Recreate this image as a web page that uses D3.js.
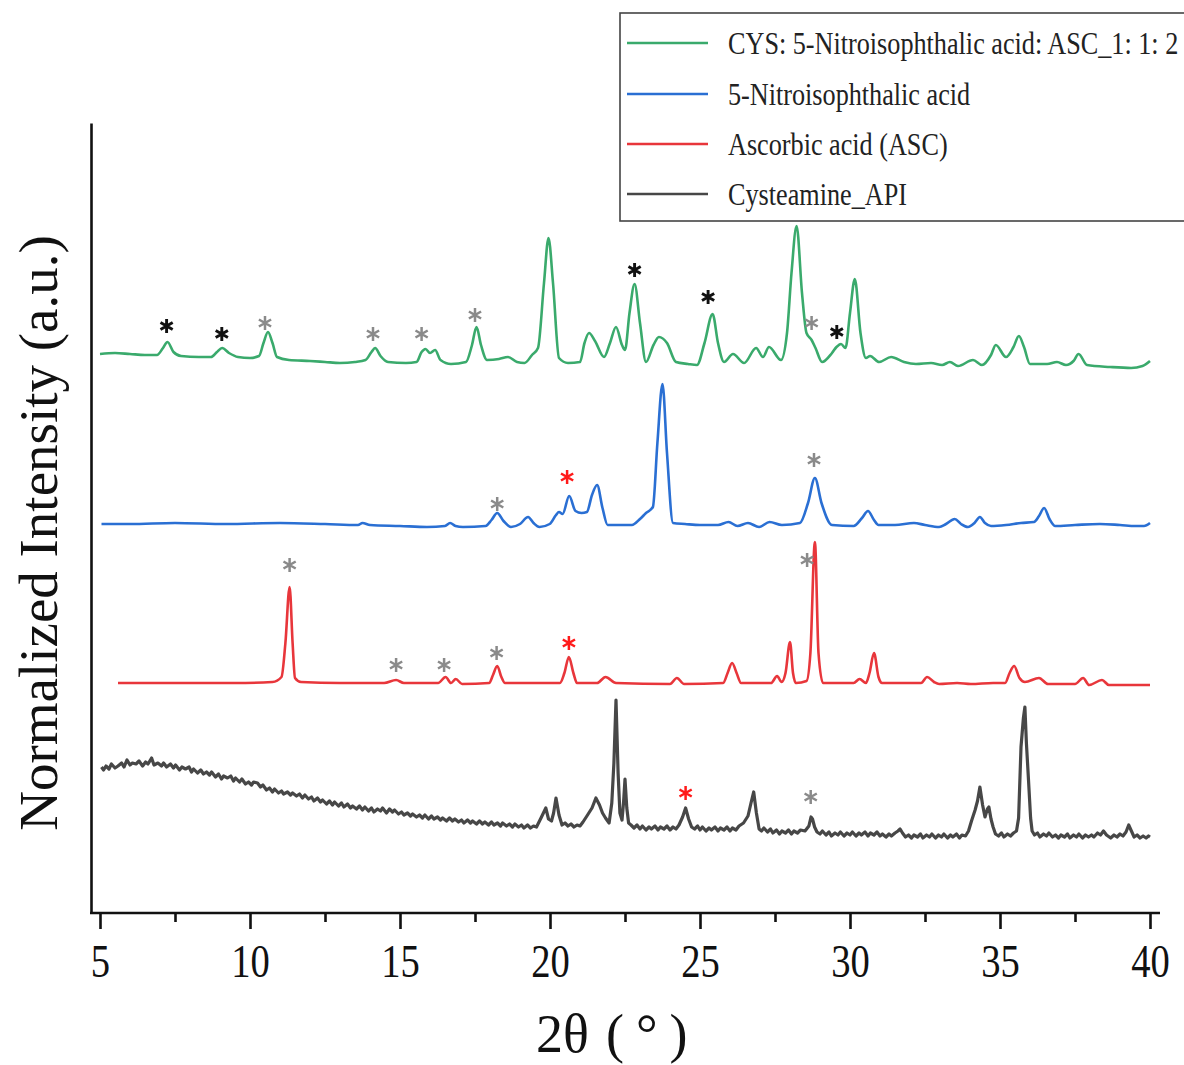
<!DOCTYPE html>
<html><head><meta charset="utf-8">
<script src="https://cdn.jsdelivr.net/npm/d3@7"></script>
<style>body{margin:0;background:#fff}svg{display:block}</style>
</head><body>
<svg id="c" width="1184" height="1065"></svg>
<script>
// ---- data (2θ in degrees, stacked normalized intensity in a.u.) ----
const seriesNames = ["CYS: 5-Nitroisophthalic acid: ASC_1: 1: 2","5-Nitroisophthalic acid","Ascorbic acid (ASC)","Cysteamine_API"];
const xTicks = [5,10,15,20,25,30,35,40];
const xMinorTicks = [7.5,12.5,17.5,22.5,27.5,32.5,37.5];

const mixture = [[5.0,559],[5.5,560],[6.0,559],[6.5,558],[6.9,558],[7.1,565],[7.25,571],[7.45,561],[7.7,557],[8.3,556],[8.7,556],[8.9,561],[9.07,565],[9.3,560],[9.6,556],[10.0,555],[10.3,557],[10.45,570],[10.6,581],[10.75,570],[10.9,556],[11.3,553],[12.0,552],[12.5,551],[13.0,550],[13.5,551],[13.85,553],[14.05,561],[14.17,565],[14.35,557],[14.6,551],[15.2,550],[15.55,551],[15.72,561],[15.85,564],[16.0,560],[16.17,563],[16.35,553],[16.7,549],[17.2,551],[17.4,568],[17.55,586],[17.7,568],[17.9,553],[18.3,554],[18.6,556],[18.9,551],[19.15,550],[19.4,558],[19.6,565],[19.8,630],[19.95,675],[20.1,630],[20.3,555],[20.6,550],[21.0,551],[21.15,570],[21.3,580],[21.5,572],[21.8,556],[22.0,570],[22.2,586],[22.4,568],[22.5,563],[22.65,600],[22.82,629],[23.0,590],[23.2,551],[23.45,568],[23.63,576],[23.9,570],[24.2,551],[24.6,549],[24.9,548],[25.15,570],[25.42,599],[25.6,570],[25.8,551],[26.1,559],[26.47,550],[26.87,565],[27.1,556],[27.3,566],[27.7,553],[27.9,580],[28.05,640],[28.22,687],[28.4,620],[28.55,580],[28.72,573],[28.85,565],[29.07,551],[29.4,560],[29.55,566],[29.7,569],[29.85,565],[30.0,600],[30.16,634],[30.35,580],[30.53,555],[30.67,557],[30.97,551],[31.37,556],[31.8,551],[32.2,549],[32.7,550],[33.07,548],[33.33,551],[33.6,547],[34.1,553],[34.4,548],[34.7,558],[34.86,568],[35.2,556],[35.45,566],[35.63,577],[35.8,566],[36.0,549],[36.57,549],[36.9,551],[37.2,548],[37.45,552],[37.62,559],[37.9,548],[38.67,546],[39.37,545],[39.75,547],[40.0,552]];

const nitro = [[5.05,389],[6.0,389],[7.5,390],[9.2,389],[11.0,390],[12.5,389],[13.6,388],[13.75,390],[14.0,388],[15.0,387],[15.9,386],[16.5,387],[16.67,390],[16.85,387],[17.1,386],[17.85,387],[18.05,393],[18.24,400],[18.45,392],[18.7,386],[19.0,389],[19.27,396],[19.45,390],[19.65,386],[19.99,389],[20.2,398],[20.3,401],[20.42,399],[20.64,417],[20.85,402],[21.05,400],[21.23,401],[21.4,418],[21.57,428],[21.75,405],[21.92,388],[22.3,388],[22.73,388],[23.0,394],[23.2,400],[23.43,406],[23.58,470],[23.75,529],[23.9,460],[24.1,390],[24.5,389],[25.0,388],[25.6,388],[25.95,391],[26.25,387],[26.6,390],[26.97,386],[27.32,391],[27.73,388],[28.33,390],[28.6,410],[28.83,435],[29.05,410],[29.4,388],[30.12,387],[30.4,395],[30.6,402],[30.8,393],[30.95,388],[31.5,388],[32.13,390],[32.5,388],[32.97,386],[33.2,389],[33.49,394],[33.7,389],[33.93,386],[34.15,390],[34.33,396],[34.5,390],[34.7,387],[35.2,388],[35.7,390],[36.13,391],[36.3,397],[36.47,405],[36.65,394],[36.84,387],[37.5,388],[38.33,389],[39.0,388],[39.52,387],[39.8,387],[40.0,390]];

const ascorbic = [[5.6,230],[6.5,230],[8.0,230],[9.5,230],[10.75,231],[11.05,236],[11.18,270],[11.32,326],[11.42,270],[11.5,235],[11.7,231],[13.0,230],[14.47,230],[14.87,233],[15.13,230],[16.27,230],[16.52,236],[16.7,230],[16.86,234],[17.07,229],[17.97,230],[18.1,238],[18.24,247],[18.38,236],[18.5,230],[20.33,230],[20.48,240],[20.63,256],[20.78,240],[20.9,230],[21.57,230],[21.85,236],[22.2,230],[24.0,229],[24.23,235],[24.47,229],[25.77,230],[25.92,240],[26.07,250],[26.22,240],[26.37,230],[27.37,230],[27.57,237],[27.72,231],[27.85,240],[28.0,271],[28.1,240],[28.2,230],[28.55,232],[28.68,260],[28.83,371],[28.95,260],[29.1,230],[30.12,230],[30.32,234],[30.53,230],[30.65,240],[30.8,260],[30.95,236],[31.07,230],[32.37,230],[32.57,236],[32.8,231],[32.97,229],[33.57,230],[34.03,229],[34.77,230],[35.17,230],[35.32,240],[35.47,247],[35.65,235],[35.83,231],[36.3,235],[36.6,229],[37.5,229],[37.77,235],[37.97,228],[38.4,233],[38.63,228],[39.5,228],[40.0,228]];

const cysteamine = [[5.05,146],[5.12,143],[5.2,147],[5.3,144],[5.38,149],[5.5,145],[5.6,147],[5.72,150],[5.8,146],[5.9,153],[6.0,148],[6.08,150],[6.2,149],[6.3,152],[6.42,147],[6.52,151],[6.6,149],[6.72,155],[6.8,148],[6.93,150],[7.05,147],[7.12,150],[7.22,146],[7.35,149],[7.45,145],[7.52,148],[7.65,143],[7.73,146],[7.85,144],[7.97,146],[8.05,141],[8.12,144],[8.25,140],[8.36,143],[8.45,139],[8.55,141],[8.65,138],[8.72,141],[8.85,136],[8.95,139],[9.05,134],[9.12,137],[9.25,135],[9.36,137],[9.45,132],[9.52,135],[9.65,131],[9.73,134],[9.85,129],[9.95,131],[10.05,128],[10.12,131],[10.25,130],[10.35,126],[10.43,128],[10.55,123],[10.65,125],[10.75,121],[10.82,124],[10.95,120],[11.05,122],[11.12,119],[11.25,121],[11.35,118],[11.42,120],[11.55,117],[11.65,119],[11.75,115],[11.83,118],[11.95,114],[12.05,116],[12.13,112],[12.25,115],[12.35,111],[12.42,113],[12.55,109],[12.65,112],[12.75,108],[12.82,111],[12.95,107],[13.05,110],[13.13,106],[13.25,109],[13.35,105],[13.42,107],[13.55,104],[13.65,107],[13.75,103],[13.83,106],[13.95,102],[14.05,105],[14.13,101],[14.25,104],[14.35,102],[14.42,105],[14.55,100],[14.65,104],[14.75,101],[14.82,103],[14.95,99],[15.05,101],[15.13,98],[15.25,100],[15.35,97],[15.42,99],[15.55,96],[15.65,98],[15.75,95],[15.83,98],[15.95,94],[16.05,97],[16.13,94],[16.25,96],[16.35,93],[16.42,95],[16.55,92],[16.65,95],[16.75,92],[16.83,94],[16.95,91],[17.05,93],[17.13,90],[17.25,93],[17.35,90],[17.42,92],[17.55,89],[17.65,92],[17.75,89],[17.83,91],[17.95,88],[18.05,91],[18.13,88],[18.25,90],[18.35,87],[18.42,90],[18.55,87],[18.65,89],[18.75,86],[18.83,89],[18.95,86],[19.05,88],[19.13,85],[19.25,88],[19.35,85],[19.45,87],[19.55,86],[19.7,95],[19.86,105],[19.95,94],[20.05,92],[20.12,100],[20.2,115],[20.3,98],[20.4,88],[20.5,90],[20.6,87],[20.7,89],[20.8,86],[20.9,88],[21.0,87],[21.1,91],[21.23,97],[21.4,105],[21.53,115],[21.65,108],[21.75,100],[21.85,95],[21.97,90],[22.06,110],[22.13,150],[22.2,213],[22.27,140],[22.33,100],[22.4,93],[22.45,110],[22.5,134],[22.56,105],[22.62,90],[22.7,88],[22.8,85],[22.9,88],[23.0,84],[23.08,87],[23.2,83],[23.3,86],[23.38,84],[23.5,87],[23.6,83],[23.68,86],[23.8,84],[23.9,87],[24.0,83],[24.1,86],[24.2,84],[24.3,88],[24.42,96],[24.52,105],[24.62,94],[24.72,86],[24.82,84],[24.92,87],[25.0,83],[25.08,86],[25.2,82],[25.3,85],[25.38,83],[25.5,86],[25.6,82],[25.68,85],[25.8,83],[25.9,86],[26.0,82],[26.08,85],[26.2,83],[26.3,87],[26.45,90],[26.6,97],[26.7,110],[26.79,121],[26.88,100],[26.97,84],[27.05,82],[27.13,85],[27.25,81],[27.35,84],[27.43,80],[27.55,83],[27.65,79],[27.73,82],[27.85,80],[27.95,83],[28.05,79],[28.13,82],[28.25,80],[28.35,83],[28.5,82],[28.63,87],[28.7,96],[28.75,94],[28.82,86],[28.9,81],[29.0,79],[29.08,82],[29.2,78],[29.3,81],[29.38,77],[29.5,80],[29.6,78],[29.68,81],[29.8,77],[29.9,80],[30.0,78],[30.08,81],[30.2,77],[30.3,80],[30.38,78],[30.5,81],[30.6,77],[30.68,80],[30.8,78],[30.9,81],[31.0,77],[31.08,79],[31.2,76],[31.3,79],[31.38,77],[31.5,80],[31.6,82],[31.67,84],[31.75,80],[31.85,76],[31.95,78],[32.05,75],[32.13,78],[32.25,76],[32.35,79],[32.43,75],[32.55,78],[32.65,76],[32.73,79],[32.85,75],[32.95,78],[33.05,76],[33.13,79],[33.25,75],[33.35,78],[33.43,76],[33.55,79],[33.65,75],[33.73,78],[33.85,77],[33.95,82],[34.05,92],[34.17,103],[34.25,112],[34.33,126],[34.42,108],[34.5,96],[34.58,104],[34.63,106],[34.7,94],[34.77,86],[34.85,79],[34.95,77],[35.05,80],[35.13,76],[35.25,79],[35.35,77],[35.45,80],[35.55,82],[35.62,95],[35.7,166],[35.78,195],[35.83,206],[35.88,170],[35.95,133],[36.02,95],[36.07,82],[36.15,78],[36.25,80],[36.33,76],[36.45,79],[36.55,77],[36.63,80],[36.75,76],[36.85,78],[36.95,75],[37.03,78],[37.15,76],[37.25,79],[37.33,75],[37.45,78],[37.55,76],[37.63,79],[37.75,75],[37.85,78],[37.95,76],[38.05,78],[38.13,76],[38.25,80],[38.35,78],[38.45,82],[38.55,78],[38.69,75],[38.8,78],[38.9,76],[39.0,79],[39.1,77],[39.2,81],[39.29,88],[39.38,82],[39.47,76],[39.57,78],[39.67,75],[39.77,77],[39.87,75],[39.95,77],[40.0,76]];

// asterisk markers: [2θ, intensity, kind]
const markers = [
 [7.22,587,"k"],[9.06,579,"k"],[10.5,590,"g"],[14.1,579,"g"],[15.72,579,"g"],[17.5,598,"g"],[22.82,643,"k"],[25.27,616,"k"],[28.72,590,"g"],[29.56,581,"k"],
 [18.24,409,"g"],[20.57,436,"r"],[28.8,453,"g"],
 [11.32,348,"g"],[14.87,248,"g"],[16.47,248,"g"],[18.22,260,"g"],[20.63,270,"r"],[28.57,353,"g"],
 [24.52,120,"r"],[28.69,116,"g"]
];

// ---- drawing ----
const colors = ["#3aaa6c","#2a6fd3","#e8363b","#474747"];
const markerColors = {k:"#111111", g:"#8a8a8a", r:"#ff1a1a"};
const serif = "'Liberation Serif','Times New Roman',serif";
const svg = d3.select("#c");
const x = d3.scaleLinear().domain([5,40]).range([100,1150]);
const y = d3.scaleLinear().domain([0,790]).range([913,123]);

const series = [mixture, nitro, ascorbic, cysteamine];
[3,2,1,0].forEach(i => {
  const line = d3.line().x(d=>x(d[0])).y(d=>y(d[1])).curve(i===3 ? d3.curveLinear : d3.curveMonotoneX);
  svg.append("path").datum(series[i]).attr("d", line)
    .attr("fill","none").attr("stroke",colors[i])
    .attr("stroke-width", i===3 ? 3.2 : 2.6).attr("stroke-linejoin","round");
});

// asterisks
svg.append("g").selectAll("path").data(markers).join("path")
  .attr("transform", d=>`translate(${x(d[0])},${y(d[1])})`)
  .attr("d", d3.symbol().type(d3.symbolAsterisk).size(140))
  .attr("fill","none")
  .attr("stroke", d=>markerColors[d[2]])
  .attr("stroke-width", d=> d[2]==="k" ? 2.9 : 2.5);

// axes
const yAxis = svg.append("g").attr("transform",`translate(91,0)`)
  .call(d3.axisLeft(y).tickValues([]).tickSizeOuter(0));
yAxis.select(".domain").attr("stroke","#111").attr("stroke-width",2.6);

svg.append("line").attr("x1",90).attr("x2",1160).attr("y1",913).attr("y2",913)
  .attr("stroke","#111").attr("stroke-width",2.6);

const minor = svg.append("g").attr("transform","translate(0,913)")
  .call(d3.axisBottom(x).tickValues(xMinorTicks).tickSize(9).tickFormat(""));
minor.select(".domain").remove();
minor.selectAll("line").attr("stroke","#111").attr("stroke-width",2.6);

const major = svg.append("g").attr("transform","translate(0,913)")
  .call(d3.axisBottom(x).tickValues(xTicks).tickSize(16).tickFormat(d3.format("d")));
major.select(".domain").remove();
major.selectAll("line").attr("stroke","#111").attr("stroke-width",2.6);
major.selectAll("text").attr("y",64).attr("dy",null)
  .attr("font-family",serif).attr("font-size",46).attr("fill","#111")
  .attr("transform","scale(0.84,1)");

// axis titles
const xt = svg.append("text").attr("x",536).attr("y",1052)
  .attr("font-family",serif).attr("font-size",54).attr("fill","#111");
xt.append("tspan").text("2θ");
xt.append("tspan").attr("x",606).attr("letter-spacing",12).text("(°)");

svg.append("text").attr("transform","translate(57,533) rotate(-90)")
  .attr("text-anchor","middle").attr("font-family",serif).attr("font-size",55).attr("fill","#111")
  .text("Normalized Intensity (a.u.)");

// legend
const lg = svg.append("g");
lg.append("rect").attr("x",620).attr("y",13).attr("width",620).attr("height",208)
  .attr("fill","#fff").attr("stroke","#444").attr("stroke-width",1.6);
const lineYs = [43,94,144,194];
seriesNames.forEach((n,i)=>{
  lg.append("line").attr("x1",627).attr("x2",708).attr("y1",lineYs[i]).attr("y2",lineYs[i])
    .attr("stroke",colors[i]).attr("stroke-width",2.6);
  lg.append("text").attr("transform",`translate(728,${lineYs[i]+11}) scale(0.845,1)`)
    .attr("font-family",serif).attr("font-size",31).attr("fill","#222").text(n);
});
</script>
</body></html>
